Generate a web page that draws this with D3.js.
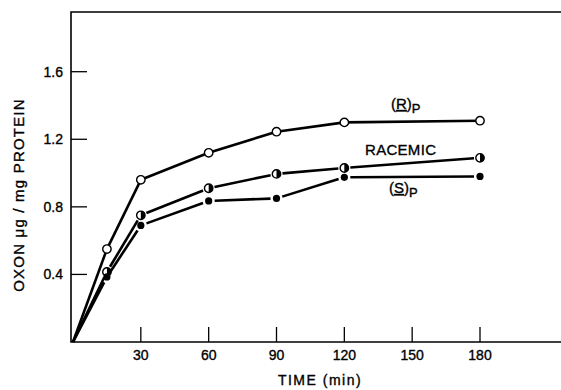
<!DOCTYPE html>
<html>
<head>
<meta charset="utf-8">
<script src="https://cdn.jsdelivr.net/npm/d3@7"></script>
<style>
  body { margin: 0; background: #fff; }
  svg { display: block; font-family: "Liberation Sans", Arial, sans-serif; }
  text { stroke: #000; stroke-width: 0.35px; }
</style>
</head>
<body>
<div id="chart"></div>
<script>
// values
const times = [0, 15, 30, 60, 90, 120, 180];
const rValues = [0, 0.55, 0.96, 1.12, 1.245, 1.30, 1.31];
const racemicValues = [0, 0.415, 0.75, 0.91, 0.995, 1.03, 1.09];
const sValues = [0, 0.385, 0.69, 0.835, 0.85, 0.975, 0.98];
const xTicks = [30, 60, 90, 120, 150, 180];
const yTicks = [0.4, 0.8, 1.2, 1.6];

const width = 561, height = 390;

const svg = d3.select('#chart').append('svg')
    .attr('width', width)
    .attr('height', height);

const x = d3.scaleLinear().domain([0, 180]).range([73, 480]);
const y = d3.scaleLinear().domain([0, 1.6]).range([342, 71.7]);

// frame: left, top, bottom (open on the right)
svg.append('path')
    .attr('d', `M${width},12 H71 V342 H${width}`)
    .attr('fill', 'none')
    .attr('stroke', '#000')
    .attr('stroke-width', 1.6);

// inward ticks
svg.append('g').selectAll('line')
    .data(yTicks)
    .join('line')
    .attr('x1', 71).attr('x2', 87)
    .attr('y1', d => y(d)).attr('y2', d => y(d))
    .attr('stroke', '#000').attr('stroke-width', 1.3);

svg.append('g').selectAll('line')
    .data(xTicks)
    .join('line')
    .attr('x1', d => x(d)).attr('x2', d => x(d))
    .attr('y1', 342).attr('y2', 327)
    .attr('stroke', '#000').attr('stroke-width', 1.3);

svg.append('g').selectAll('text')
    .data(yTicks)
    .join('text')
    .attr('x', 63)
    .attr('y', d => y(d) + 5)
    .attr('text-anchor', 'end')
    .style('font-size', '14px')
    .text(d => d.toFixed(1));

svg.append('g').selectAll('text')
    .data(xTicks)
    .join('text')
    .attr('x', d => x(d))
    .attr('y', 360)
    .attr('text-anchor', 'middle')
    .style('font-size', '14px')
    .text(d => d);

// axis titles
svg.append('text')
    .attr('x', 320)
    .attr('y', 385)
    .attr('text-anchor', 'middle')
    .style('font-size', '14px')
    .style('letter-spacing', '1.5px')
    .text('TIME  (min)');

svg.append('text')
    .attr('transform', 'translate(24,195) rotate(-90)')
    .attr('text-anchor', 'middle')
    .style('font-size', '15px')
    .style('letter-spacing', '1.2px')
    .text('OXON μg / mg PROTEIN');

// series
const series = [
    { name: 'R', values: rValues, gap: 0, marker: 'open', r: 4.2 },
    { name: 'racemic', values: racemicValues, gap: 6, marker: 'half', r: 4.2 },
    { name: 'S', values: sValues, gap: 6, marker: 'filled', r: 3.6 }
];

series.forEach(s => {
    const pts = times.map((t, i) => [x(t), y(s.values[i])]);
    const g = svg.append('g');

    // line segments, trimmed short of the markers
    d3.pairs(pts).forEach(([a, b], i) => {
        const dx = b[0] - a[0], dy = b[1] - a[1];
        const len = Math.hypot(dx, dy);
        const g0 = i === 0 ? 0 : s.gap;
        const g1 = s.gap;
        g.append('line')
            .attr('x1', a[0] + dx * g0 / len)
            .attr('y1', a[1] + dy * g0 / len)
            .attr('x2', b[0] - dx * g1 / len)
            .attr('y2', b[1] - dy * g1 / len)
            .attr('stroke', '#000')
            .attr('stroke-width', 2.6);
    });

    const m = g.selectAll('g.marker')
        .data(pts.slice(1))
        .join('g')
        .attr('class', 'marker')
        .attr('transform', d => `translate(${d[0]},${d[1]})`);

    if (s.marker === 'open') {
        m.append('circle').attr('r', s.r)
            .attr('fill', '#fff').attr('stroke', '#000').attr('stroke-width', 1.4);
    } else if (s.marker === 'filled') {
        m.append('circle').attr('r', s.r).attr('fill', '#000');
    } else {
        m.append('circle').attr('r', s.r)
            .attr('fill', '#fff').attr('stroke', '#000').attr('stroke-width', 1.4);
        m.append('path')
            .attr('d', d3.arc()({ innerRadius: 0, outerRadius: s.r, startAngle: 0, endAngle: Math.PI }))
            .attr('fill', '#000');
    }
});

// curve labels
const labels = svg.append('g').style('font-size', '15px');

function subLabel(letter, lx, ly) {
    const t = labels.append('text').attr('x', lx).attr('y', ly);
    t.append('tspan').text('(');
    t.append('tspan').attr('text-decoration', 'underline').text(letter);
    t.append('tspan').text(')');
    t.append('tspan').attr('dy', 4).style('font-size', '13px').text('P');
}

subLabel('R', 391, 109);
subLabel('S', 389, 193);

labels.append('text')
    .attr('x', 365)
    .attr('y', 155)
    .style('font-size', '15px')
    .style('letter-spacing', '0.3px')
    .text('RACEMIC');
</script>
</body>
</html>
